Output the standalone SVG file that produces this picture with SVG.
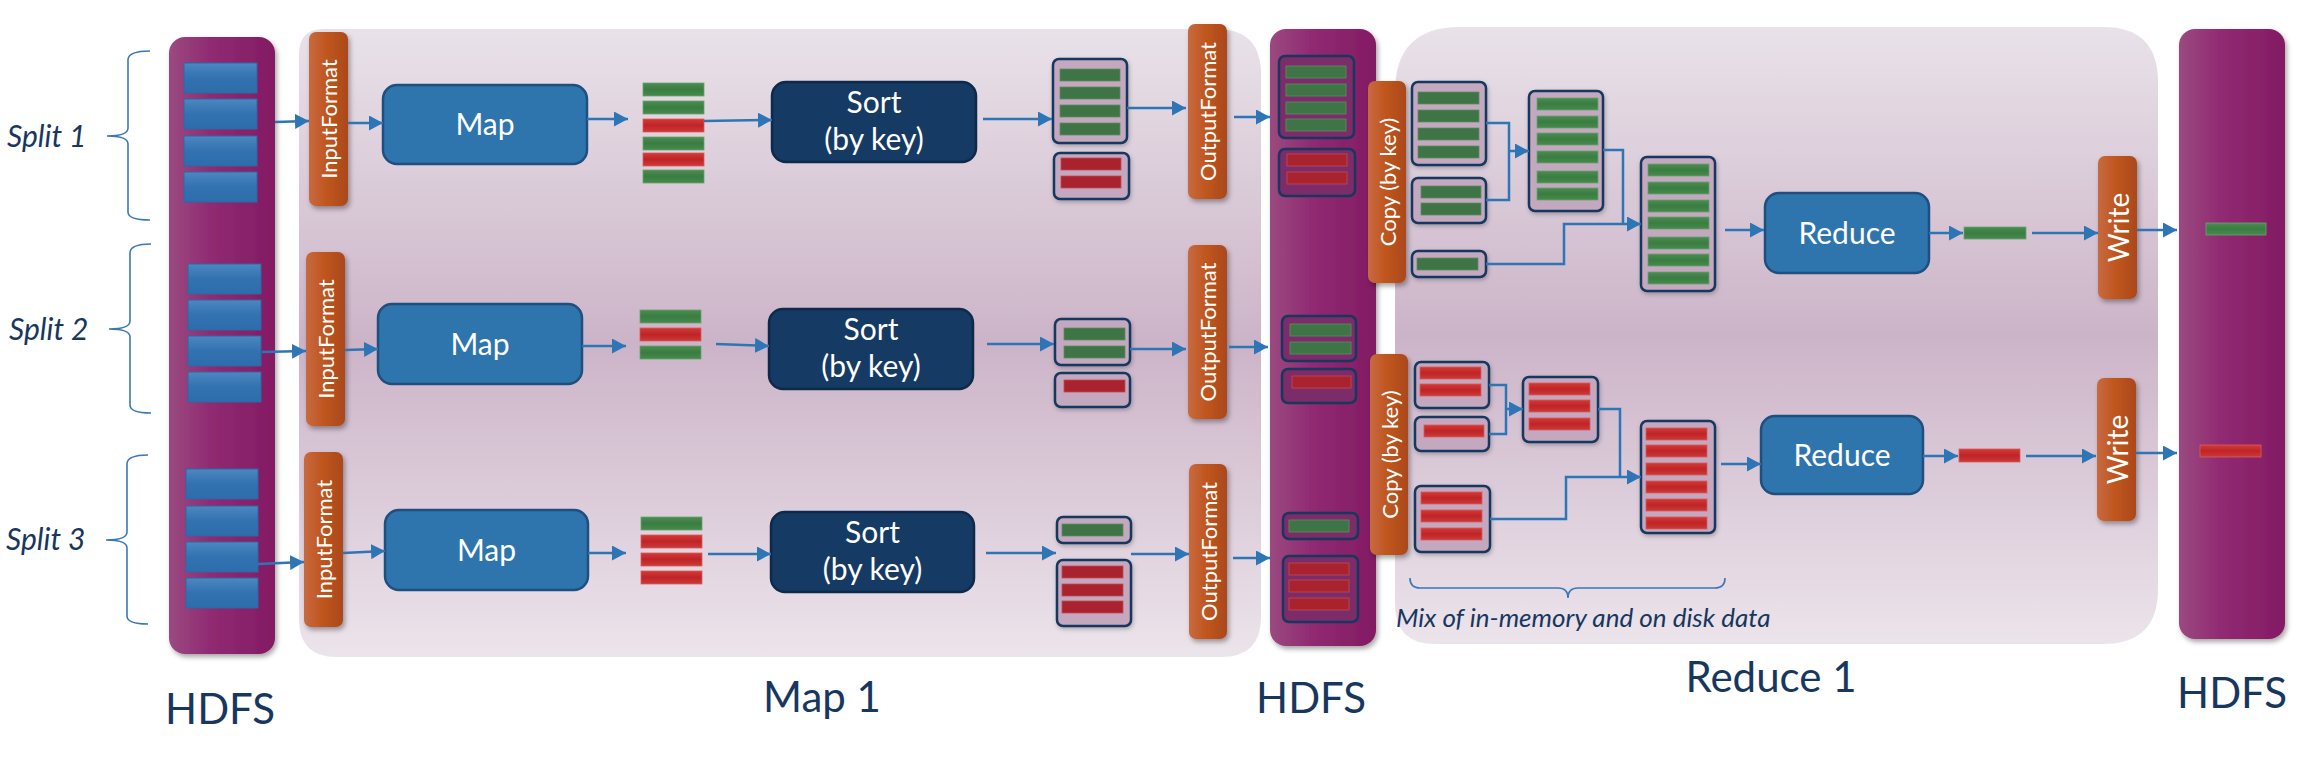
<svg xmlns="http://www.w3.org/2000/svg" width="2324" height="760" viewBox="0 0 2324 760">
<defs>
<linearGradient id="gPanel" x1="0" y1="0" x2="0" y2="1">
<stop offset="0" stop-color="#e9e2e9"/><stop offset="0.5" stop-color="#ccb4c8"/><stop offset="1" stop-color="#ece4eb"/>
</linearGradient>
<linearGradient id="gHdfs" x1="0" y1="0" x2="1" y2="0">
<stop offset="0" stop-color="#9a4a80"/><stop offset="0.4" stop-color="#902a72"/><stop offset="1" stop-color="#831b63"/>
</linearGradient>
<linearGradient id="gOr" x1="0" y1="0" x2="1" y2="0">
<stop offset="0" stop-color="#c76a40"/><stop offset="0.45" stop-color="#c0561f"/><stop offset="1" stop-color="#ab481b"/>
</linearGradient>
<linearGradient id="gBlk" x1="0" y1="0" x2="0" y2="1">
<stop offset="0" stop-color="#4c87c0"/><stop offset="0.5" stop-color="#3272b0"/><stop offset="1" stop-color="#2e6dab"/>
</linearGradient>
<linearGradient id="gG" x1="0" y1="0" x2="0" y2="1">
<stop offset="0" stop-color="#4b8c52"/><stop offset="0.5" stop-color="#3a7d40"/><stop offset="1" stop-color="#468a4d"/>
</linearGradient>
<linearGradient id="gR" x1="0" y1="0" x2="0" y2="1">
<stop offset="0" stop-color="#d23a36"/><stop offset="0.5" stop-color="#bf2426"/><stop offset="1" stop-color="#cc3a3a"/>
</linearGradient>
<filter id="sh" x="-20%" y="-10%" width="150%" height="130%">
<feDropShadow dx="2" dy="3" stdDeviation="2.5" flood-color="#000" flood-opacity="0.35"/>
</filter>
<filter id="sh2" x="-20%" y="-20%" width="150%" height="150%">
<feDropShadow dx="1" dy="2" stdDeviation="2" flood-color="#000" flood-opacity="0.25"/>
</filter>
<marker id="ah" markerUnits="userSpaceOnUse" markerWidth="15" markerHeight="15" refX="14" refY="7.5" orient="auto">
<path d="M0,0 L14,7.5 L0,15 z" fill="#2e75b6"/>
</marker>
</defs>
<style>
.panel{fill:url(#gPanel)}
.hdfs{fill:url(#gHdfs);filter:url(#sh)}
.blk{fill:url(#gBlk);stroke:#2b68a6;stroke-width:1}
.or{fill:url(#gOr);filter:url(#sh)}
.ot{fill:#fff;font-family:Lato,"Liberation Sans",sans-serif;font-size:22px;text-anchor:middle;dominant-baseline:central}
.map{fill:#2e74ad;stroke:#1f4f7e;stroke-width:2.5}
.sort{fill:#153a63;stroke:#0e2a4b;stroke-width:2.5}
.bt{fill:#fff;font-family:Lato,"Liberation Sans",sans-serif;font-size:30px;text-anchor:middle}
.g{fill:url(#gG);stroke:#6aa36f;stroke-width:0.8}
.r{fill:url(#gR);stroke:#dc5a5a;stroke-width:0.8}
.c{fill:#c3a8bf;stroke:#17375e;stroke-width:2.5;filter:url(#sh2)}
.ch{fill:#7c2c69;stroke:#17375e;stroke-width:2.5}
.cg{fill:#3f7447;stroke:#5d8f63;stroke-width:0.8}
.cr{fill:#a8232e;stroke:#c24a50;stroke-width:0.8}
.ln{fill:none;stroke:#2e75b6;stroke-width:2.5}
.ar{fill:none;stroke:#2e75b6;stroke-width:2.5;marker-end:url(#ah)}
.br{fill:none;stroke:#3a78b5;stroke-width:1.6}
.lbl{fill:#17375e;font-family:Lato,"Liberation Sans",sans-serif;font-size:42px;text-anchor:middle}
.sp{fill:#17375e;font-family:Lato,"Liberation Sans",sans-serif;font-size:30px;font-style:italic}
</style>
<rect width="2324" height="760" fill="#fff"/>

<g id="map-panel"><path class="panel" d="M324,29 H1216 Q1261,29 1261,74 V617 Q1261,657 1221,657 H337 Q299,657 299,619 V54 Q299,29 324,29 Z"/></g>
<g id="reduce-panel"><path class="panel" d="M1460,27 H2103 Q2158,27 2158,82 V589 Q2158,644 2103,644 H1435 Q1395,644 1395,604 V92 Q1395,27 1460,27 Z"/></g>

<g id="hdfs-in">
<rect class="hdfs" x="169" y="37" width="106" height="617" rx="16"/>
<rect class="blk" x="184" y="63" width="73" height="30"/><rect class="blk" x="184" y="99" width="73" height="30"/><rect class="blk" x="184" y="136" width="73" height="30"/><rect class="blk" x="184" y="172" width="73" height="30"/>
<rect class="blk" x="188" y="264" width="73" height="30"/><rect class="blk" x="188" y="300" width="73" height="30"/><rect class="blk" x="188" y="336" width="73" height="30"/><rect class="blk" x="188" y="372" width="73" height="30"/>
<rect class="blk" x="186" y="469" width="72" height="30"/><rect class="blk" x="186" y="506" width="72" height="30"/><rect class="blk" x="186" y="542" width="72" height="30"/><rect class="blk" x="186" y="578" width="72" height="30"/>
<text class="lbl" x="220" y="724">HDFS</text>
</g>

<g id="split1"><path class="br" d="M150,51 Q128,51 128,60 V128 Q128,136 107,136 Q128,136 128,144 V212 Q128,220 150,220"/><text class="sp" x="7" y="147">Split 1</text></g>
<g id="split2"><path class="br" d="M151,244 Q130,244 130,253 V321 Q130,329 109,329 Q130,329 130,337 V405 Q130,413 151,413"/><text class="sp" x="9" y="340">Split 2</text></g>
<g id="split3"><path class="br" d="M148,455 Q127,455 127,464 V532 Q127,540 106,540 Q127,540 127,548 V616 Q127,624 148,624"/><text class="sp" x="6" y="550">Split 3</text></g>

<g id="inputformat1"><rect class="or" x="309" y="32" width="39" height="174" rx="7"/><text class="ot" transform="translate(328.5,119) rotate(-90)">InputFormat</text></g>
<g id="inputformat2"><rect class="or" x="306" y="252" width="39" height="174" rx="7"/><text class="ot" transform="translate(325.5,339) rotate(-90)">InputFormat</text></g>
<g id="inputformat3"><rect class="or" x="304" y="452" width="39" height="175" rx="7"/><text class="ot" transform="translate(323.5,539.5) rotate(-90)">InputFormat</text></g>

<g id="map1"><rect class="map" x="383" y="85" width="204" height="79" rx="14"/><text class="bt" x="485" y="135">Map</text></g>
<g id="map2"><rect class="map" x="378" y="304" width="204" height="80" rx="14"/><text class="bt" x="480" y="355">Map</text></g>
<g id="map3"><rect class="map" x="385" y="510" width="203" height="80" rx="14"/><text class="bt" x="486.5" y="561">Map</text></g>

<g id="keys1"><rect class="g" x="643" y="83" width="61" height="13"/><rect class="g" x="643" y="101" width="61" height="13"/><rect class="r" x="643" y="119" width="61" height="13"/><rect class="g" x="643" y="137" width="61" height="13"/><rect class="r" x="643" y="153" width="61" height="13"/><rect class="g" x="643" y="170" width="61" height="13"/></g>
<g id="keys2"><rect class="g" x="640" y="310" width="61" height="13"/><rect class="r" x="640" y="328" width="61" height="13"/><rect class="g" x="640" y="346" width="61" height="13"/></g>
<g id="keys3"><rect class="g" x="641" y="517" width="61" height="13"/><rect class="r" x="641" y="535" width="61" height="13"/><rect class="r" x="641" y="553" width="61" height="13"/><rect class="r" x="641" y="571" width="61" height="13"/></g>

<g id="sort1"><rect class="sort" x="772" y="82" width="204" height="80" rx="14"/><text class="bt" x="874" y="113">Sort</text><text class="bt" x="874" y="150">(by key)</text></g>
<g id="sort2"><rect class="sort" x="769" y="309" width="204" height="80" rx="14"/><text class="bt" x="871" y="340">Sort</text><text class="bt" x="871" y="377">(by key)</text></g>
<g id="sort3"><rect class="sort" x="771" y="512" width="203" height="80" rx="14"/><text class="bt" x="872.5" y="543">Sort</text><text class="bt" x="872.5" y="580">(by key)</text></g>

<g id="sorted1"><rect class="c" x="1053" y="59" width="74" height="84" rx="6"/><rect class="cg" x="1060" y="69" width="60" height="12"/><rect class="cg" x="1060" y="87" width="60" height="12"/><rect class="cg" x="1060" y="105" width="60" height="12"/><rect class="cg" x="1060" y="123" width="60" height="12"/>
<rect class="c" x="1054" y="153" width="75" height="46" rx="6"/><rect class="cr" x="1061" y="158" width="60" height="12"/><rect class="cr" x="1061" y="176" width="60" height="12"/></g>
<g id="sorted2"><rect class="c" x="1055" y="319" width="75" height="46" rx="6"/><rect class="cg" x="1064" y="328" width="61" height="12"/><rect class="cg" x="1064" y="346" width="61" height="12"/>
<rect class="c" x="1055" y="373" width="75" height="34" rx="6"/><rect class="cr" x="1064" y="380" width="61" height="12"/></g>
<g id="sorted3"><rect class="c" x="1057" y="517" width="74" height="26" rx="6"/><rect class="cg" x="1062" y="524" width="61" height="12"/>
<rect class="c" x="1057" y="560" width="74" height="66" rx="6"/><rect class="cr" x="1062" y="566" width="61" height="12"/><rect class="cr" x="1062" y="584" width="61" height="12"/><rect class="cr" x="1062" y="601" width="61" height="12"/></g>

<g id="outputformat1"><rect class="or" x="1188" y="24" width="39" height="175" rx="7"/><text class="ot" transform="translate(1207.5,111.5) rotate(-90)">OutputFormat</text></g>
<g id="outputformat2"><rect class="or" x="1188" y="245" width="39" height="174" rx="7"/><text class="ot" transform="translate(1207.5,332) rotate(-90)">OutputFormat</text></g>
<g id="outputformat3"><rect class="or" x="1189" y="464" width="38" height="175" rx="7"/><text class="ot" transform="translate(1208,551.5) rotate(-90)">OutputFormat</text></g>

<g id="hdfs-mid">
<rect class="hdfs" x="1270" y="29" width="106" height="617" rx="16"/>
<rect class="ch" x="1279" y="56" width="75" height="82" rx="6"/><rect class="cg" x="1286" y="66" width="60" height="12"/><rect class="cg" x="1286" y="84" width="60" height="12"/><rect class="cg" x="1286" y="102" width="60" height="12"/><rect class="cg" x="1286" y="119" width="60" height="12"/>
<rect class="ch" x="1279" y="149" width="76" height="47" rx="6"/><rect class="cr" x="1287" y="154" width="60" height="12"/><rect class="cr" x="1287" y="172" width="60" height="12"/>
<rect class="ch" x="1282" y="316" width="74" height="45" rx="6"/><rect class="cg" x="1290" y="324" width="61" height="12"/><rect class="cg" x="1290" y="342" width="61" height="12"/>
<rect class="ch" x="1282" y="369" width="74" height="34" rx="6"/><rect class="cr" x="1292" y="376" width="59" height="12"/>
<rect class="ch" x="1283" y="513" width="75" height="26" rx="6"/><rect class="cg" x="1289" y="520" width="60" height="12"/>
<rect class="ch" x="1283" y="556" width="75" height="66" rx="6"/><rect class="cr" x="1289" y="563" width="60" height="12"/><rect class="cr" x="1289" y="580" width="60" height="12"/><rect class="cr" x="1289" y="598" width="60" height="12"/>
<text class="lbl" x="1311" y="713">HDFS</text>
</g>

<g id="copy1"><rect class="or" x="1368" y="81" width="38" height="202" rx="7"/><text class="ot" transform="translate(1387,182) rotate(-90)">Copy (by key)</text></g>
<g id="copy2"><rect class="or" x="1370" y="354" width="38" height="201" rx="7"/><text class="ot" transform="translate(1389,454.5) rotate(-90)">Copy (by key)</text></g>

<g id="shuffle-green">
<rect class="c" x="1412" y="82" width="74" height="83" rx="6"/><rect class="cg" x="1418" y="92" width="61" height="12"/><rect class="cg" x="1418" y="110" width="61" height="12"/><rect class="cg" x="1418" y="128" width="61" height="12"/><rect class="cg" x="1418" y="146" width="61" height="12"/>
<rect class="c" x="1412" y="178" width="74" height="45" rx="6"/><rect class="cg" x="1421" y="186" width="60" height="12"/><rect class="cg" x="1421" y="203" width="60" height="12"/>
<rect class="c" x="1412" y="251" width="74" height="26" rx="6"/><rect class="cg" x="1417" y="258" width="61" height="12"/>
<rect class="c" x="1529" y="91" width="74" height="120" rx="6"/><rect class="g" x="1537" y="98" width="61" height="12"/><rect class="g" x="1537" y="116" width="61" height="12"/><rect class="g" x="1537" y="133" width="61" height="12"/><rect class="g" x="1537" y="151" width="61" height="12"/><rect class="g" x="1537" y="171" width="61" height="12"/><rect class="g" x="1537" y="188" width="61" height="12"/>
<rect class="c" x="1641" y="157" width="74" height="134" rx="6"/><rect class="g" x="1648" y="164" width="61" height="12"/><rect class="g" x="1648" y="182" width="61" height="12"/><rect class="g" x="1648" y="200" width="61" height="12"/><rect class="g" x="1648" y="217" width="61" height="12"/><rect class="g" x="1648" y="237" width="61" height="12"/><rect class="g" x="1648" y="254" width="61" height="12"/><rect class="g" x="1648" y="272" width="61" height="12"/>
</g>
<g id="shuffle-red">
<rect class="c" x="1415" y="362" width="74" height="46" rx="6"/><rect class="r" x="1420" y="367" width="61" height="12"/><rect class="r" x="1420" y="384" width="61" height="12"/>
<rect class="c" x="1415" y="417" width="74" height="34" rx="6"/><rect class="r" x="1424" y="425" width="60" height="12"/>
<rect class="c" x="1415" y="486" width="75" height="66" rx="6"/><rect class="r" x="1421" y="492" width="61" height="12"/><rect class="r" x="1421" y="510" width="61" height="12"/><rect class="r" x="1421" y="528" width="61" height="12"/>
<rect class="c" x="1523" y="377" width="75" height="65" rx="6"/><rect class="r" x="1529" y="383" width="61" height="12"/><rect class="r" x="1529" y="400" width="61" height="12"/><rect class="r" x="1529" y="418" width="61" height="12"/>
<rect class="c" x="1641" y="421" width="74" height="112" rx="6"/><rect class="r" x="1646" y="428" width="61" height="12"/><rect class="r" x="1646" y="445" width="61" height="12"/><rect class="r" x="1646" y="463" width="61" height="12"/><rect class="r" x="1646" y="481" width="61" height="12"/><rect class="r" x="1646" y="499" width="61" height="12"/><rect class="r" x="1646" y="517" width="61" height="12"/>
</g>

<g id="reduce1"><rect class="map" x="1765" y="193" width="164" height="80" rx="14"/><text class="bt" x="1847" y="244">Reduce</text></g>
<g id="reduce2"><rect class="map" x="1761" y="416" width="162" height="78" rx="14"/><text class="bt" x="1842" y="466">Reduce</text></g>
<g id="out1"><rect class="g" x="1964" y="227" width="62" height="12"/></g>
<g id="out2"><rect class="r" x="1959" y="449" width="61" height="13"/></g>
<g id="write1"><rect class="or" x="2098" y="156" width="39" height="143" rx="7"/><text class="ot" style="font-size:28px" transform="translate(2117.5,227.5) rotate(-90)">Write</text></g>
<g id="write2"><rect class="or" x="2097" y="378" width="39" height="143" rx="7"/><text class="ot" style="font-size:28px" transform="translate(2116.5,449.5) rotate(-90)">Write</text></g>

<g id="hdfs-out">
<rect class="hdfs" x="2179" y="29" width="106" height="610" rx="16"/>
<rect class="g" x="2206" y="223" width="60" height="12"/>
<rect class="r" x="2200" y="445" width="61" height="12"/>
<text class="lbl" x="2232" y="708">HDFS</text>
</g>

<g id="mix-note"><path class="br" d="M1410,578 Q1410,588 1420,588 H1558 Q1568,588 1568,598 Q1568,588 1578,588 H1715 Q1725,588 1725,578"/><text class="sp" style="font-size:26px" x="1396" y="627">Mix of in-memory and on disk data</text></g>

<g id="phase-labels"><text class="lbl" x="822" y="712">Map 1</text><text class="lbl" x="1771" y="692">Reduce 1</text></g>

<g id="connectors">
<path class="ar" d="M275,122 L309,121"/>
<path class="ar" d="M348,123 L383,123"/>
<path class="ar" d="M587,119 L628,119"/>
<path class="ar" d="M704,121 L772,120"/>
<path class="ar" d="M983,119 L1052,119"/>
<path class="ar" d="M1127,108 L1186,108"/>
<path class="ar" d="M1234,117 L1270,117"/>
<path class="ar" d="M262,352 L306,351"/>
<path class="ar" d="M345,350 L378,349"/>
<path class="ar" d="M582,346 L626,346"/>
<path class="ar" d="M716,344 L769,346"/>
<path class="ar" d="M987,344 L1054,344"/>
<path class="ar" d="M1130,349 L1186,349"/>
<path class="ar" d="M1229,347 L1268,347"/>
<path class="ar" d="M258,564 L304,562"/>
<path class="ar" d="M343,553 L385,551"/>
<path class="ar" d="M588,553 L626,553"/>
<path class="ar" d="M708,554 L771,554"/>
<path class="ar" d="M986,553 L1056,553"/>
<path class="ar" d="M1131,554 L1189,554"/>
<path class="ar" d="M1233,558 L1270,558"/>
<path class="ln" d="M1486,123 H1509 V200 H1486"/>
<path class="ar" d="M1509,151 H1529"/>
<path class="ln" d="M1603,150 H1623 V224"/>
<path class="ar" d="M1486,264 H1564 V224 H1641"/>
<path class="ar" d="M1725,230 H1764"/>
<path class="ar" d="M1929,233 H1963"/>
<path class="ar" d="M2032,233 H2098"/>
<path class="ar" d="M2137,230 H2177"/>
<path class="ln" d="M1489,385 H1506 V434 H1489"/>
<path class="ar" d="M1506,409 H1523"/>
<path class="ln" d="M1598,409 H1620 V477"/>
<path class="ar" d="M1490,519 H1566 V477 H1641"/>
<path class="ar" d="M1721,464 H1761"/>
<path class="ar" d="M1923,456 H1958"/>
<path class="ar" d="M2026,456 H2096"/>
<path class="ar" d="M2136,453 H2177"/>
</g>
</svg>
